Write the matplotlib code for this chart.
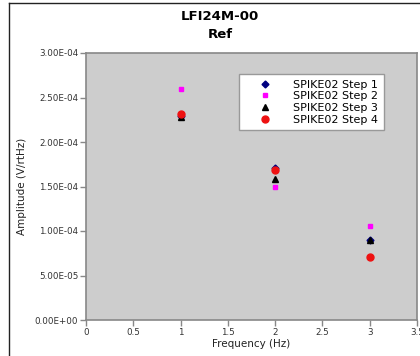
import matplotlib
matplotlib.use("Agg")
import matplotlib.pyplot as plt
from matplotlib.lines import Line2D

freq = [1, 2, 3]
step1 = [2.29e-4, 1.71e-4, 0.90e-4]
step2 = [2.60e-4, 1.50e-4, 1.055e-4]
step3 = [2.28e-4, 1.58e-4, 0.90e-4]
step4 = [2.32e-4, 1.69e-4, 0.71e-4]
labels = ["SPIKE02 Step 1", "SPIKE02 Step 2", "SPIKE02 Step 3", "SPIKE02 Step 4"]
yticks = [0, 5e-5, 1e-4, 1.5e-4, 2e-4, 2.5e-4, 3e-4]
ytick_labels = ["0.00E+00", "5.00E-05", "1.00E-04", "1.50E-04", "2.00E-04", "2.50E-04", "3.00E-04"]
xticks = [0, 0.5, 1, 1.5, 2, 2.5, 3, 3.5]
xtick_labels = ["0", "0.5", "1", "1.5", "2", "2.5", "3", "3.5"]

plt.rcParams['font.family'] = ['DejaVu Sans']
fig = plt.figure(figsize=(4.2, 3.56), dpi=100)
fig.patch.set_facecolor('white')
ax = fig.add_axes([86/420, 1-320/356, (417-86)/420, (320-53)/356])
ax.set_facecolor('#cdcdcd')

ax.plot(freq, step1, linestyle='none', marker='D', color='#000080', markersize=3.5, label=labels[0])
ax.plot(freq, step2, linestyle='none', marker='s', color='#ff00ff', markersize=3, label=labels[1])
ax.plot(freq, step3, linestyle='none', marker='^', color='black', markersize=5, label=labels[2])
ax.plot(freq, step4, linestyle='none', marker='o', color='#ee1111', markersize=5, label=labels[3])

ax.set_xlim(0, 3.5)
ax.set_ylim(0, 3e-4)
ax.set_xticks(xticks)
ax.set_xticklabels(xtick_labels)
ax.set_yticks(yticks)
ax.set_yticklabels(ytick_labels)
ax.tick_params(axis='both', direction='out', length=4, width=1, color='#888888',
               labelsize=6.3, labelcolor='#333333', pad=1.5)
for s in ax.spines.values():
    s.set_color('#888888')
    s.set_linewidth(1.2)

ax.set_xlabel("Frequency (Hz)", fontsize=7.5, color='#222222', labelpad=2)
ax.set_ylabel("Amplitude (V/rtHz)", fontsize=7.5, color='#222222', labelpad=6)

fig.text(220/420, 1-17/356, "LFI24M-00", ha='center', va='center', fontsize=9.5, fontweight='bold')
fig.text(220/420, 1-35/356, "Ref", ha='center', va='center', fontsize=9.5, fontweight='bold')

leg = ax.legend(loc='upper left', bbox_to_anchor=((239-86)/331, (320-74)/267),
                fontsize=8, frameon=True, fancybox=False, framealpha=1, handletextpad=0.7,
                borderpad=0.5, labelspacing=0.15, handlelength=3.7, borderaxespad=0)
leg.get_frame().set_edgecolor('#999999')
leg.get_frame().set_facecolor('white')
leg.get_frame().set_linewidth(1)

fig.add_artist(Line2D([9/420, 9/420], [0, 1-3/356], transform=fig.transFigure, color='#222222', linewidth=1))
fig.add_artist(Line2D([9/420, 1], [1-3/356, 1-3/356], transform=fig.transFigure, color='#222222', linewidth=1))

fig.savefig("out.png", dpi=100)
